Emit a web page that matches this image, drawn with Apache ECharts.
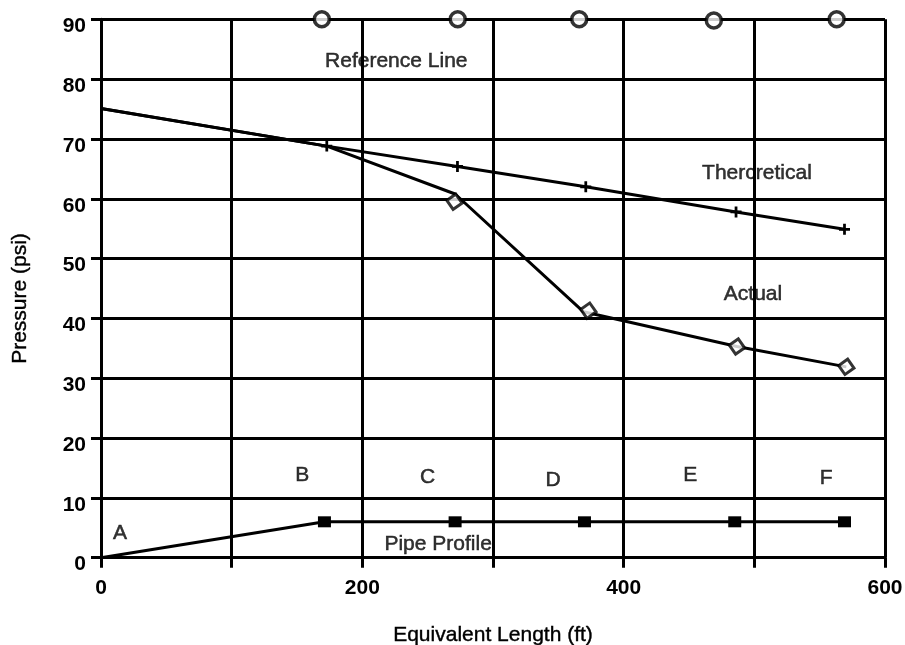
<!DOCTYPE html>
<html><head><meta charset="utf-8">
<script src="https://cdn.jsdelivr.net/npm/echarts@6/dist/echarts.min.js"></script>
<style>html,body{margin:0;padding:0;background:#fff}#c{width:905px;height:645px}</style>
</head><body><div id="c"></div>
<script>
// Data (x: equivalent length ft, y: pressure psi)
const referenceLine = [[169, 90], [273, 90], [366, 90], [469, 89.8], [563, 90]];
const theoreticalLine = [[0, 75.1], [172.8, 68.8], [272.8, 65.4], [371, 62.0], [486, 57.8], [569, 54.9]];
const actualLine = [[0, 75.1], [172.8, 68.8], [271, 60.8], [369.3, 41.1], [486.7, 35.3], [570.4, 31.9]];
const actualPoints = [[270.5, 59.5], [373, 41.3], [486.7, 35.3], [570.4, 31.9]];
const pipeProfile = [[0, 0], [171, 6], [271, 6], [370, 6], [485, 6], [569, 6]];
const annotations = [
  ['Reference Line', 226, 83], ['Thercretical', 502, 64.3], ['Actual', 499, 44.1], ['Pipe Profile', 258, 2.2],
  ['A', 14.5, 4.1], ['B', 154, 13.8], ['C', 250, 13.4], ['D', 346, 13], ['E', 451, 13.8], ['F', 555, 13.3]
];
const xLabelValues = [0, 200, 400, 600];
const yLabelValues = [0, 10, 20, 30, 40, 50, 60, 70, 80, 90];

const FONT = '"Liberation Sans", Arial, sans-serif';
const BLACK = '#000';
const plusPath = 'path://M3.75,0H6.25V3.75H10V6.25H6.25V10H3.75V6.25H0V3.75H3.75Z';

const withFirstNoSymbol = arr => arr.map((p, i) => i === 0 ? { value: p, symbol: 'none' } : { value: p });

const chart = echarts.init(document.getElementById('c'), null, { renderer: 'canvas' });
chart.setOption({
  backgroundColor: '#fff',
  animation: false,
  grid: { left: 101, right: 20, top: 19.3, bottom: 87.3, containLabel: false, outerBoundsMode: 'none' },
  xAxis: {
    type: 'value', min: 0, max: 600, interval: 100,
    name: 'Equivalent Length (ft)', nameLocation: 'middle', nameGap: 67,
    nameTextStyle: { fontFamily: FONT, fontSize: 21, color: BLACK, textBorderColor: BLACK, textBorderWidth: 0.4 },
    axisLine: { show: true, onZero: false, lineStyle: { color: BLACK, width: 3 } },
    axisTick: { show: true, inside: false, length: 10, lineStyle: { color: BLACK, width: 3 } },
    axisLabel: {
      margin: 20, fontFamily: FONT, fontSize: 21, fontWeight: 'bold', color: BLACK,
      formatter: v => xLabelValues.indexOf(v) >= 0 ? String(v) : ''
    },
    splitLine: { show: true, lineStyle: { color: BLACK, width: 3 } }
  },
  yAxis: {
    type: 'value', min: 0, max: 90, interval: 10,
    name: 'Pressure (psi)', nameLocation: 'middle', nameGap: 70,
    nameTextStyle: { fontFamily: FONT, fontSize: 21, color: BLACK, textBorderColor: BLACK, textBorderWidth: 0.4, padding: [0, 20, 0, 0] },
    axisLine: { show: true, onZero: false, lineStyle: { color: BLACK, width: 3 } },
    axisTick: { show: true, inside: false, length: 10, lineStyle: { color: BLACK, width: 3 } },
    axisLabel: {
      margin: 15, fontFamily: FONT, fontSize: 21, fontWeight: 'bold', color: BLACK,
      verticalAlign: 'top', lineHeight: 14,
      verticalAlignMaxLabel: 'top', verticalAlignMinLabel: 'top',
      formatter: v => yLabelValues.indexOf(v) >= 0 ? String(v) : ''
    },
    splitLine: { show: true, lineStyle: { color: BLACK, width: 3 } }
  },
  series: [
    {
      name: 'Annotations', type: 'scatter', z: -1, silent: true,
      symbolSize: 1, itemStyle: { color: 'transparent' },
      data: annotations.map(a => ({ name: a[0], value: [a[1], a[2]] })),
      label: {
        show: true, position: 'inside', formatter: p => p.name,
        fontFamily: FONT, fontSize: 21, color: BLACK,
        textBorderColor: BLACK, textBorderWidth: 0.5
      }
    },
    {
      name: 'Theoretical', type: 'line', clip: false,
      data: withFirstNoSymbol(theoreticalLine),
      symbol: plusPath, symbolSize: 11, showAllSymbol: true,
      lineStyle: { color: BLACK, width: 3 },
      itemStyle: { color: BLACK, borderWidth: 0 }
    },
    {
      name: 'Actual', type: 'line', clip: false,
      data: actualLine, showSymbol: false, symbol: 'none',
      lineStyle: { color: BLACK, width: 3 }
    },
    {
      name: 'Actual points', type: 'scatter', clip: false, z: 4,
      data: actualPoints, symbol: 'rect', symbolSize: 11, symbolRotate: 35,
      itemStyle: { color: '#fff', borderColor: BLACK, borderWidth: 3 }
    },
    {
      name: 'Pipe Profile', type: 'line', clip: false,
      data: withFirstNoSymbol(pipeProfile),
      symbol: 'rect', symbolSize: [13, 11], showAllSymbol: true,
      lineStyle: { color: BLACK, width: 3 },
      itemStyle: { color: BLACK, borderWidth: 0 }
    },
    {
      name: 'Reference Line', type: 'scatter', clip: false, z: 4,
      data: referenceLine, symbol: 'circle', symbolSize: 15,
      itemStyle: { color: '#fff', borderColor: BLACK, borderWidth: 3.5 }
    }
  ]
});
</script>
</body></html>
